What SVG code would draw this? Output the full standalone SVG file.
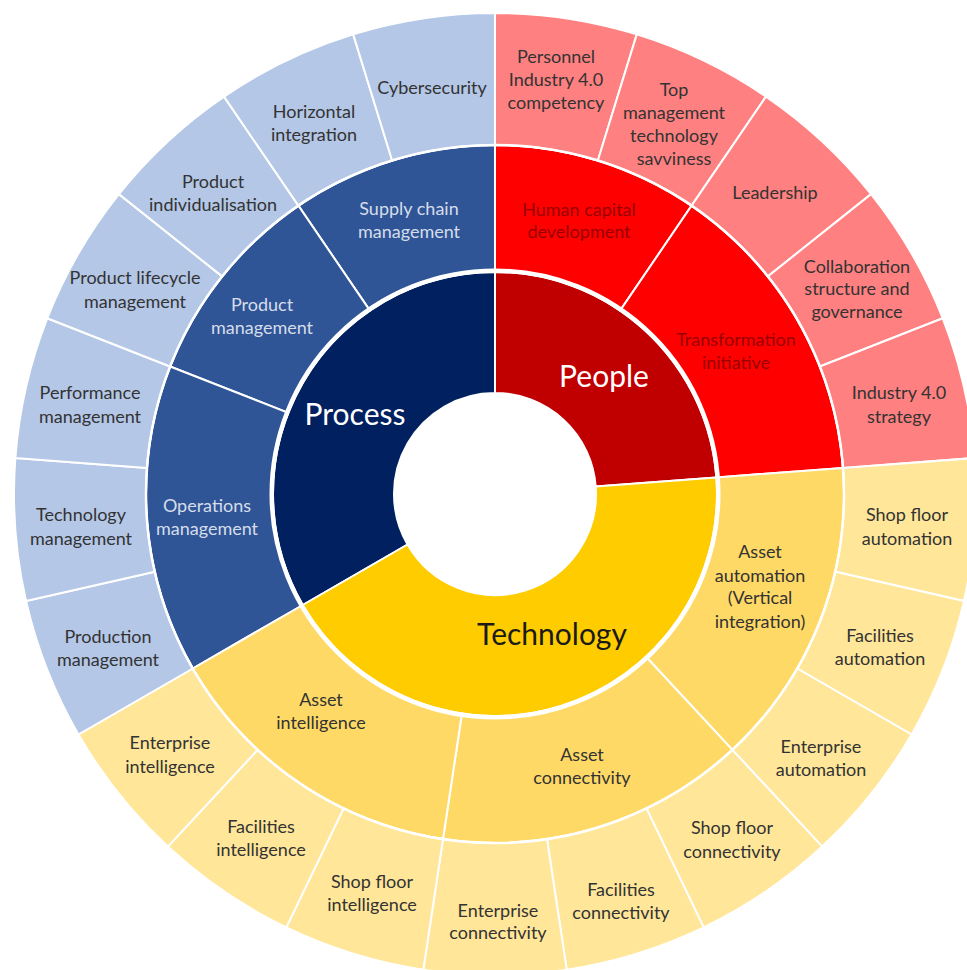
<svg xmlns="http://www.w3.org/2000/svg" width="967" height="970" viewBox="0 0 967 970">
  <style>
    .seg { stroke: #ffffff; stroke-width: 2; stroke-linejoin: round; }
    .p1 { fill: #002060; } .p2 { fill: #2F5597; } .p3 { fill: #B4C7E7; }
    .h1 { fill: #C00000; } .h2 { fill: #FF0000; } .h3 { fill: #FF8080; }
    .t1 { fill: #FFCC00; } .t2 { fill: #FFD966; } .t3 { fill: #FFE699; }
    text { font-family: Lato, "Open Sans", "Liberation Sans", sans-serif; text-anchor: middle; }
    .lbl { font-size: 18px; fill: #333333; }
    .lbl-w { font-size: 18px; fill: #D6DDEA; }
    .lbl-r { font-size: 18px; fill: #980000; }
    .core { font-size: 30px; fill: #ffffff; }
    .core-d { font-size: 30px; fill: #1a1a1a; }
  </style>
  <rect width="967" height="970" fill="#ffffff"/>

  <!-- centre (495,494); radii 101 / 222 / 349 / 481; one leaf = 360/21 degrees -->

  <!-- Core ring -->
  <g id="process">
    <path class="seg p1" d="M407.53,544.5 L302.74,605 A222,222 0 0 1 495,272 L495,393 A101,101 0 0 0 407.53,544.5 Z"/>
    <text class="core" x="355" y="425">Process</text>
  </g>
  <g id="people">
    <path class="seg h1" d="M495,393 L495,272 A222,222 0 0 1 716.38,477.41 L595.72,486.45 A101,101 0 0 0 495,393 Z"/>
    <text class="core" x="604" y="387">People</text>
  </g>
  <g id="technology">
    <path class="seg t1" d="M595.72,486.45 L716.38,477.41 A222,222 0 0 1 302.74,605 L407.53,544.5 A101,101 0 0 0 595.72,486.45 Z"/>
    <text class="core-d" x="552" y="645">Technology</text>
  </g>

  <!-- Middle ring -->
  <g id="supply-chain-management">
    <path class="seg p2" d="M369.94,310.57 L298.40,205.64 A349,349 0 0 1 495,145 L495,272 A222,222 0 0 0 369.94,310.57 Z"/>
    <text class="lbl-w" x="409" y="215">Supply chain</text>
    <text class="lbl-w" x="409" y="238">management</text>
  </g>
  <g id="product-management">
    <path class="seg p2" d="M288.35,412.89 L170.13,366.50 A349,349 0 0 1 298.40,205.64 L369.94,310.57 A222,222 0 0 0 288.35,412.89 Z"/>
    <text class="lbl-w" x="262" y="311">Product</text>
    <text class="lbl-w" x="262" y="334">management</text>
  </g>
  <g id="operations-management">
    <path class="seg p2" d="M302.74,605 L192.76,668.5 A349,349 0 0 1 170.13,366.50 L288.35,412.89 A222,222 0 0 0 302.74,605 Z"/>
    <text class="lbl-w" x="207" y="512">Operations</text>
    <text class="lbl-w" x="207" y="535">management</text>
  </g>
  <g id="human-capital-development">
    <path class="seg h2" d="M495,272 L495,145 A349,349 0 0 1 691.60,205.64 L620.06,310.57 A222,222 0 0 0 495,272 Z"/>
    <text class="lbl-r" x="579" y="216">Human capital</text>
    <text class="lbl-r" x="579" y="238">development</text>
  </g>
  <g id="transformation-initiative">
    <path class="seg h2" d="M620.06,310.57 L691.60,205.64 A349,349 0 0 1 843.02,467.92 L716.38,477.41 A222,222 0 0 0 620.06,310.57 Z"/>
    <text class="lbl-r" x="736" y="346">Transformation</text>
    <text class="lbl-r" x="736" y="369">initiative</text>
  </g>
  <g id="asset-automation">
    <path class="seg t2" d="M716.38,477.41 L843.02,467.92 A349,349 0 0 1 732.38,749.83 L646.00,656.74 A222,222 0 0 0 716.38,477.41 Z"/>
    <text class="lbl" x="760" y="558">Asset</text>
    <text class="lbl" x="760" y="582">automation</text>
    <text class="lbl" x="760" y="604">(Vertical</text>
    <text class="lbl" x="760" y="628">integration)</text>
  </g>
  <g id="asset-connectivity">
    <path class="seg t2" d="M646.00,656.74 L732.38,749.83 A349,349 0 0 1 442.99,839.10 L461.91,713.52 A222,222 0 0 0 646.00,656.74 Z"/>
    <text class="lbl" x="582" y="761">Asset</text>
    <text class="lbl" x="582" y="784">connectivity</text>
  </g>
  <g id="asset-intelligence">
    <path class="seg t2" d="M461.91,713.52 L442.99,839.10 A349,349 0 0 1 192.76,668.5 L302.74,605 A222,222 0 0 0 461.91,713.52 Z"/>
    <text class="lbl" x="321" y="706">Asset</text>
    <text class="lbl" x="321" y="729">intelligence</text>
  </g>

  <!-- Outer ring: people -->
  <g id="personnel-competency">
    <path class="seg h3" d="M495,145 L495,13 A481,481 0 0 1 636.78,34.37 L597.87,160.51 A349,349 0 0 0 495,145 Z"/>
    <text class="lbl" x="556" y="63">Personnel</text>
    <text class="lbl" x="556" y="86">Industry 4.0</text>
    <text class="lbl" x="556" y="109">competency</text>
  </g>
  <g id="top-management-savviness">
    <path class="seg h3" d="M597.87,160.51 L636.78,34.37 A481,481 0 0 1 765.96,96.58 L691.60,205.64 A349,349 0 0 0 597.87,160.51 Z"/>
    <text class="lbl" x="674" y="96">Top</text>
    <text class="lbl" x="674" y="119">management</text>
    <text class="lbl" x="674" y="142">technology</text>
    <text class="lbl" x="674" y="165">savviness</text>
  </g>
  <g id="leadership">
    <path class="seg h3" d="M691.60,205.64 L765.96,96.58 A481,481 0 0 1 871.06,194.10 L767.86,276.40 A349,349 0 0 0 691.60,205.64 Z"/>
    <text class="lbl" x="775" y="199">Leadership</text>
  </g>
  <g id="collaboration-structure">
    <path class="seg h3" d="M767.86,276.40 L871.06,194.10 A481,481 0 0 1 942.75,318.27 L819.87,366.50 A349,349 0 0 0 767.86,276.40 Z"/>
    <text class="lbl" x="857" y="273">Collaboration</text>
    <text class="lbl" x="857" y="295">structure and</text>
    <text class="lbl" x="857" y="318">governance</text>
  </g>
  <g id="industry-strategy">
    <path class="seg h3" d="M819.87,366.50 L942.75,318.27 A481,481 0 0 1 974.65,458.05 L843.02,467.92 A349,349 0 0 0 819.87,366.50 Z"/>
    <text class="lbl" x="899" y="399">Industry 4.0</text>
    <text class="lbl" x="899" y="423">strategy</text>
  </g>

  <!-- Outer ring: technology -->
  <g id="shop-floor-automation">
    <path class="seg t3" d="M843.02,467.92 L974.65,458.05 A481,481 0 0 1 963.94,601.03 L835.25,571.66 A349,349 0 0 0 843.02,467.92 Z"/>
    <text class="lbl" x="907" y="521">Shop floor</text>
    <text class="lbl" x="907" y="545">automation</text>
  </g>
  <g id="facilities-automation">
    <path class="seg t3" d="M835.25,571.66 L963.94,601.03 A481,481 0 0 1 911.56,734.5 L797.24,668.5 A349,349 0 0 0 835.25,571.66 Z"/>
    <text class="lbl" x="880" y="642">Facilities</text>
    <text class="lbl" x="880" y="665">automation</text>
  </g>
  <g id="enterprise-automation">
    <path class="seg t3" d="M797.24,668.5 L911.56,734.5 A481,481 0 0 1 822.16,846.60 L732.38,749.83 A349,349 0 0 0 797.24,668.5 Z"/>
    <text class="lbl" x="821" y="753">Enterprise</text>
    <text class="lbl" x="821" y="776">automation</text>
  </g>
  <g id="shop-floor-connectivity">
    <path class="seg t3" d="M732.38,749.83 L822.16,846.60 A481,481 0 0 1 703.70,927.37 L646.42,808.44 A349,349 0 0 0 732.38,749.83 Z"/>
    <text class="lbl" x="732" y="834">Shop floor</text>
    <text class="lbl" x="732" y="858">connectivity</text>
  </g>
  <g id="facilities-connectivity">
    <path class="seg t3" d="M646.42,808.44 L703.70,927.37 A481,481 0 0 1 566.69,969.63 L547.01,839.10 A349,349 0 0 0 646.42,808.44 Z"/>
    <text class="lbl" x="621" y="896">Facilities</text>
    <text class="lbl" x="621" y="919">connectivity</text>
  </g>
  <g id="enterprise-connectivity">
    <path class="seg t3" d="M547.01,839.10 L566.69,969.63 A481,481 0 0 1 423.31,969.63 L442.99,839.10 A349,349 0 0 0 547.01,839.10 Z"/>
    <text class="lbl" x="498" y="917">Enterprise</text>
    <text class="lbl" x="498" y="939">connectivity</text>
  </g>
  <g id="shop-floor-intelligence">
    <path class="seg t3" d="M442.99,839.10 L423.31,969.63 A481,481 0 0 1 286.30,927.37 L343.58,808.44 A349,349 0 0 0 442.99,839.10 Z"/>
    <text class="lbl" x="372" y="888">Shop floor</text>
    <text class="lbl" x="372" y="911">intelligence</text>
  </g>
  <g id="facilities-intelligence">
    <path class="seg t3" d="M343.58,808.44 L286.30,927.37 A481,481 0 0 1 167.84,846.60 L257.62,749.83 A349,349 0 0 0 343.58,808.44 Z"/>
    <text class="lbl" x="261" y="833">Facilities</text>
    <text class="lbl" x="261" y="856">intelligence</text>
  </g>
  <g id="enterprise-intelligence">
    <path class="seg t3" d="M257.62,749.83 L167.84,846.60 A481,481 0 0 1 78.44,734.5 L192.76,668.5 A349,349 0 0 0 257.62,749.83 Z"/>
    <text class="lbl" x="170" y="749">Enterprise</text>
    <text class="lbl" x="170" y="773">intelligence</text>
  </g>

  <!-- Outer ring: process -->
  <g id="production-management">
    <path class="seg p3" d="M192.76,668.5 L78.44,734.5 A481,481 0 0 1 26.06,601.03 L154.75,571.66 A349,349 0 0 0 192.76,668.5 Z"/>
    <text class="lbl" x="108" y="643">Production</text>
    <text class="lbl" x="108" y="666">management</text>
  </g>
  <g id="technology-management">
    <path class="seg p3" d="M154.75,571.66 L26.06,601.03 A481,481 0 0 1 15.35,458.05 L146.98,467.92 A349,349 0 0 0 154.75,571.66 Z"/>
    <text class="lbl" x="81" y="521">Technology</text>
    <text class="lbl" x="81" y="545">management</text>
  </g>
  <g id="performance-management">
    <path class="seg p3" d="M146.98,467.92 L15.35,458.05 A481,481 0 0 1 47.25,318.27 L170.13,366.50 A349,349 0 0 0 146.98,467.92 Z"/>
    <text class="lbl" x="90" y="399">Performance</text>
    <text class="lbl" x="90" y="423">management</text>
  </g>
  <g id="product-lifecycle-management">
    <path class="seg p3" d="M170.13,366.50 L47.25,318.27 A481,481 0 0 1 118.94,194.10 L222.14,276.40 A349,349 0 0 0 170.13,366.50 Z"/>
    <text class="lbl" x="135" y="284">Product lifecycle</text>
    <text class="lbl" x="135" y="308">management</text>
  </g>
  <g id="product-individualisation">
    <path class="seg p3" d="M222.14,276.40 L118.94,194.10 A481,481 0 0 1 224.04,96.58 L298.40,205.64 A349,349 0 0 0 222.14,276.40 Z"/>
    <text class="lbl" x="213" y="188">Product</text>
    <text class="lbl" x="213" y="211">individualisation</text>
  </g>
  <g id="horizontal-integration">
    <path class="seg p3" d="M298.40,205.64 L224.04,96.58 A481,481 0 0 1 353.22,34.37 L392.13,160.51 A349,349 0 0 0 298.40,205.64 Z"/>
    <text class="lbl" x="314" y="118">Horizontal</text>
    <text class="lbl" x="314" y="141">integration</text>
  </g>
  <g id="cybersecurity">
    <path class="seg p3" d="M392.13,160.51 L353.22,34.37 A481,481 0 0 1 495,13 L495,145 A349,349 0 0 0 392.13,160.51 Z"/>
    <text class="lbl" x="432" y="94">Cybersecurity</text>
  </g>

  <!-- Ring separators -->
  <g id="connectors" fill="none" stroke="#ffffff">
    <circle cx="495" cy="494" r="223.5" stroke-width="4"/>
    <circle cx="495" cy="494" r="349" stroke-width="2.5"/>
  </g>
</svg>
